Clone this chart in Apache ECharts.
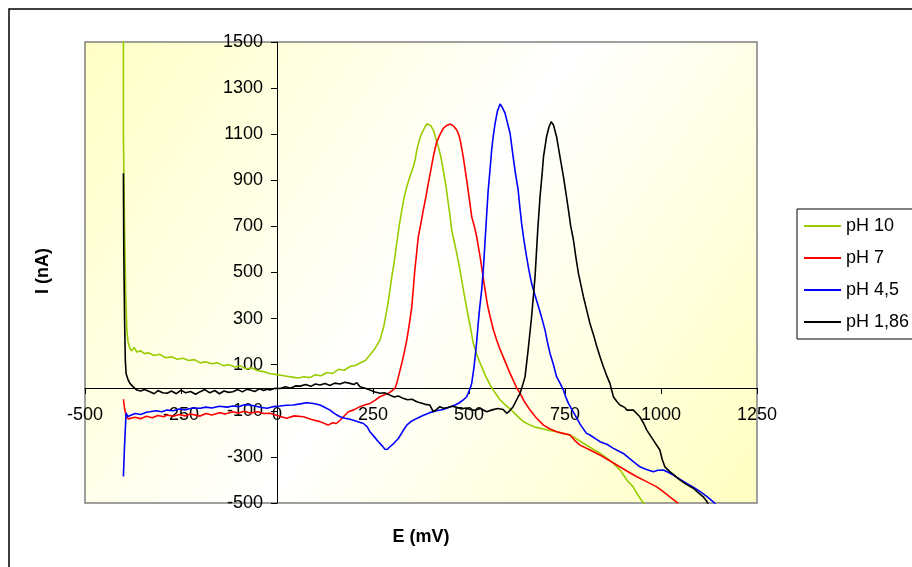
<!DOCTYPE html>
<html>
<head>
<meta charset="utf-8">
<script src="https://cdn.jsdelivr.net/npm/echarts@6/dist/echarts.min.js"></script>
<style>
  html, body { margin: 0; padding: 0; background: #fff; }
  #chart { width: 912px; height: 567px; }
</style>
</head>
<body>
<div id="chart"></div>
<script>
// E (mV) / I (nA) pairs
var seriesNames = ['pH 10', 'pH 7', 'pH 4,5', 'pH 1,86'];
var seriesColors = ['#99CC00', '#FF0000', '#0000FF', '#000000'];

var ph10 = [
  [-400, 1600], [-400, 1100], [-397, 700], [-394, 400], [-391, 250], [-388, 200], [-383, 170], [-378, 160],
  [-372, 175], [-365, 155], [-355, 160], [-345, 148], [-335, 152], [-320, 140], [-305, 145], [-290, 130],
  [-275, 134], [-260, 124], [-245, 128], [-230, 118], [-215, 122], [-200, 108], [-185, 113], [-170, 104],
  [-155, 108], [-140, 96], [-125, 100], [-110, 90], [-95, 94], [-80, 82], [-65, 86], [-50, 74], [-35, 70],
  [-20, 62], [-5, 58], [10, 54], [25, 50], [40, 46], [55, 42], [70, 48], [85, 44], [100, 56], [115, 52],
  [130, 66], [145, 62], [160, 80], [175, 76], [190, 92], [205, 98], [216, 107], [230, 118], [242, 142],
  [255, 170], [268, 207], [278, 265], [286, 337], [293, 410], [299, 482], [306, 555], [312, 628], [318, 700],
  [325, 771], [331, 825], [338, 872], [346, 915], [355, 959], [360, 990], [364, 1031], [370, 1070], [377, 1105],
  [385, 1130], [390, 1145], [394, 1150], [400, 1138], [407, 1118], [413, 1085], [420, 1046], [427, 1000],
  [433, 944], [440, 875], [446, 801], [451, 740], [455, 684], [462, 630], [468, 584], [475, 525], [481, 467],
  [488, 400], [494, 345], [503, 268], [511, 194], [520, 145], [529, 107], [542, 55], [555, 12], [568, -22],
  [581, -53], [598, -80], [615, -104], [624, -120], [640, -145], [659, -162], [675, -172], [690, -178],
  [710, -185], [728, -191], [745, -198], [763, -205], [780, -222], [798, -241], [815, -258], [841, -284],
  [859, -305], [876, -328], [895, -360], [911, -400], [927, -429], [937, -458], [950, -490], [958, -505]
];

var ph7 = [
  [-400, -50], [-397, -90], [-392, -126], [-387, -135], [-383, -140], [-370, -128], [-355, -134], [-340, -124],
  [-325, -130], [-310, -120], [-295, -126], [-286, -118], [-270, -124], [-255, -116], [-240, -122], [-225, -114],
  [-200, -123], [-185, -112], [-170, -118], [-150, -108], [-135, -114], [-115, -104], [-100, -110], [-85, -102],
  [-70, -110], [-50, -104], [-35, -112], [-18, -111], [0, -120], [25, -132], [45, -122], [69, -126], [90, -138],
  [112, -147], [133, -162], [145, -152], [155, -155], [165, -140], [173, -126], [186, -104], [200, -96],
  [216, -82], [230, -74], [242, -68], [255, -55], [268, -39], [280, -30], [290, -24], [300, -12], [307, -3],
  [312, 20], [318, 60], [325, 106], [331, 150], [338, 207], [345, 280], [351, 351], [355, 430], [359, 511],
  [364, 590], [368, 655], [375, 715], [381, 771], [388, 830], [394, 887], [400, 940], [407, 1002], [412, 1040],
  [416, 1067], [425, 1100], [433, 1125], [442, 1138], [451, 1144], [460, 1135], [468, 1118], [474, 1095],
  [477, 1075], [481, 1040], [485, 1002], [494, 901], [500, 830], [507, 742], [514, 700], [520, 655], [529, 568],
  [535, 500], [542, 424], [548, 360], [555, 308], [563, 255], [572, 207], [580, 170], [589, 134], [598, 98],
  [607, 62], [615, 33], [624, 0], [633, -24], [645, -62], [659, -97], [675, -130], [694, -162], [710, -178],
  [728, -191], [745, -198], [763, -205], [775, -228], [789, -249], [815, -270], [841, -292], [860, -310],
  [885, -335], [910, -360], [937, -386], [960, -405], [989, -430], [1005, -450], [1023, -473], [1045, -502]
];

var ph45 = [
  [-400, -385], [-397, -250], [-393, -110], [-388, -125], [-383, -118], [-370, -112], [-355, -116], [-340, -106],
  [-331, -104], [-315, -100], [-300, -104], [-286, -97], [-270, -100], [-255, -92], [-240, -96], [-220, -88],
  [-200, -89], [-185, -84], [-170, -88], [-150, -80], [-130, -84], [-115, -79], [-100, -82], [-85, -74],
  [-70, -75], [-55, -80], [-40, -86], [-26, -89], [-10, -82], [8, -79], [25, -76], [42, -75], [60, -70],
  [77, -65], [95, -68], [112, -75], [125, -86], [138, -97], [150, -112], [164, -126], [177, -132], [190, -137],
  [205, -144], [225, -155], [235, -170], [242, -191], [253, -212], [264, -234], [274, -252], [281, -267],
  [287, -268], [294, -256], [305, -240], [316, -220], [327, -190], [338, -162], [350, -145], [364, -133],
  [380, -120], [398, -108], [415, -100], [433, -94], [450, -84], [464, -75], [475, -65], [485, -53], [494, -39],
  [503, -3], [507, 19], [512, 76], [516, 134], [520, 200], [524, 279], [528, 350], [533, 424], [538, 530],
  [542, 641], [546, 750], [550, 858], [555, 950], [559, 1031], [563, 1090], [568, 1147], [574, 1200],
  [581, 1231], [587, 1215], [594, 1190], [600, 1150], [607, 1104], [615, 1002], [620, 940], [628, 858],
  [632, 790], [637, 713], [643, 640], [650, 568], [656, 510], [663, 453], [672, 400], [681, 351], [690, 300],
  [698, 250], [704, 200], [711, 149], [720, 100], [728, 48], [737, 20], [746, -10], [752, -40], [759, -68],
  [768, -95], [776, -118], [790, -160], [806, -198], [815, -205], [830, -222], [841, -234], [859, -245],
  [875, -262], [893, -278], [902, -285], [920, -310], [945, -343], [962, -355], [980, -364], [992, -358],
  [1006, -357], [1020, -368], [1032, -379], [1050, -398], [1067, -415], [1085, -432], [1102, -451],
  [1120, -472], [1136, -495], [1142, -505]
];

var ph186 = [
  [-400, 931], [-399, 600], [-397, 300], [-395, 120], [-393, 62], [-388, 35], [-383, 19], [-375, 5],
  [-365, -10], [-355, -14], [-345, -8], [-331, -17], [-320, -26], [-310, -12], [-298, -22], [-286, -24],
  [-275, -14], [-262, -26], [-250, -10], [-238, -22], [-225, -16], [-212, -28], [-200, -17], [-188, -8],
  [-175, -22], [-162, -12], [-150, -26], [-138, -14], [-126, -20], [-115, -17], [-102, -8], [-90, -18],
  [-78, -6], [-70, -10], [-58, -16], [-45, -4], [-35, -12], [-26, -6], [-18, -10], [-5, -2], [8, -3], [22, 4],
  [35, -2], [48, 8], [60, 7], [75, 14], [88, 6], [100, 16], [112, 12], [125, 18], [138, 10], [150, 20],
  [164, 16], [177, 24], [190, 19], [200, 14], [208, 22], [216, 4], [230, -2], [242, -10], [255, -18],
  [268, -24], [280, -22], [294, -32], [305, -40], [316, -36], [328, -46], [340, -52], [352, -50], [364, -61],
  [375, -66], [386, -72], [398, -75], [407, -104], [415, -95], [424, -82], [433, -89], [445, -86], [456, -80],
  [468, -85], [480, -92], [492, -88], [503, -94], [515, -98], [530, -90], [546, -104], [560, -96], [575, -90],
  [589, -94], [598, -111], [606, -100], [615, -82], [628, -39], [633, -24], [641, 19], [646, 48], [654, 164],
  [663, 308], [672, 482], [679, 684], [685, 829], [690, 920], [694, 1002], [702, 1089], [708, 1130],
  [714, 1154], [720, 1140], [728, 1089], [737, 1002], [746, 915], [752, 850], [759, 771], [765, 700],
  [772, 641], [778, 570], [785, 496], [798, 395], [806, 340], [815, 279], [825, 225], [833, 178], [842, 130],
  [850, 91], [858, 55], [867, 19], [876, -39], [885, -60], [893, -75], [905, -85], [911, -97], [928, -97],
  [945, -126], [955, -155], [963, -184], [980, -227], [997, -270], [1003, -310], [1010, -343], [1023, -364],
  [1035, -380], [1049, -400], [1065, -418], [1084, -436], [1097, -455], [1110, -473], [1118, -490], [1123, -505]
];

var seriesData = [ph10, ph7, ph45, ph186];

var chart = echarts.init(document.getElementById('chart'));
var labelFont = { fontFamily: 'Liberation Sans, Arial, sans-serif', fontSize: 18, color: '#000' };
var plainNumber = function (v) { return String(v); };

// axes cross at zero: shift both axes from the grid edge onto the origin
var gridLeft = 85, gridTop = 42, gridW = 672, gridH = 461;
var xShift = -Math.round(gridH * 500 / 2000);   // x axis from bottom up to I = 0
var yShift = -Math.round(gridW * 500 / 1750);   // y axis from left across to E = 0

var option = {
  animation: false,
  backgroundColor: '#fff',
  grid: {
    left: gridLeft, top: gridTop, width: gridW, height: gridH,
    show: true,
    borderColor: '#808080',
    borderWidth: 1.5,
    backgroundColor: new echarts.graphic.LinearGradient(0, 0, 1, 1, [
      { offset: 0, color: '#FFFFC4' },
      { offset: 0.5, color: '#FFFFFF' },
      { offset: 1, color: '#FFFFC0' }
    ])
  },
  legend: {
    orient: 'vertical',
    left: 797, top: 209,
    padding: [8, 12, 8, 7],
    itemGap: 14,
    itemWidth: 37,
    itemHeight: 2,
    icon: 'rect',
    borderColor: '#000',
    borderWidth: 1,
    backgroundColor: '#fff',
    textStyle: labelFont,
    data: seriesNames
  },
  xAxis: {
    type: 'value',
    position: 'bottom',
    offset: xShift,
    min: -500, max: 1250, interval: 250,
    axisLine: { onZero: false, lineStyle: { color: '#000', width: 1 } },
    axisTick: { show: true, length: 6, lineStyle: { color: '#000' } },
    axisLabel: Object.assign({ margin: 18, formatter: plainNumber }, labelFont),
    splitLine: { show: false }
  },
  yAxis: {
    type: 'value',
    position: 'left',
    offset: yShift,
    min: -500, max: 1500, interval: 200,
    axisLine: { onZero: false, lineStyle: { color: '#000', width: 1 } },
    axisTick: { show: true, length: 6, lineStyle: { color: '#000' } },
    axisLabel: Object.assign({ margin: 14, formatter: plainNumber }, labelFont),
    splitLine: { show: false }
  },
  graphic: [
    {
      type: 'rect', silent: true, z: -10,
      shape: { x: 9, y: 9, width: 1000, height: 1000 },
      style: { fill: 'none', stroke: '#000', lineWidth: 1.5 }
    },
    {
      type: 'text', x: 421, y: 537,
      style: { text: 'E (mV)', font: 'bold 18px Liberation Sans, Arial, sans-serif', fill: '#000', align: 'center', verticalAlign: 'middle' }
    },
    {
      type: 'text', x: 43, y: 271, rotation: Math.PI / 2,
      style: { text: 'I (nA)', font: 'bold 18px Liberation Sans, Arial, sans-serif', fill: '#000', align: 'center', verticalAlign: 'middle' }
    }
  ],
  series: seriesNames.map(function (name, i) {
    return {
      name: name,
      type: 'line',
      data: seriesData[i],
      symbol: 'none',
      clip: true,
      lineStyle: { color: seriesColors[i], width: 1.6 },
      itemStyle: { color: seriesColors[i] }
    };
  })
};

chart.setOption(option);
</script>
</body>
</html>
